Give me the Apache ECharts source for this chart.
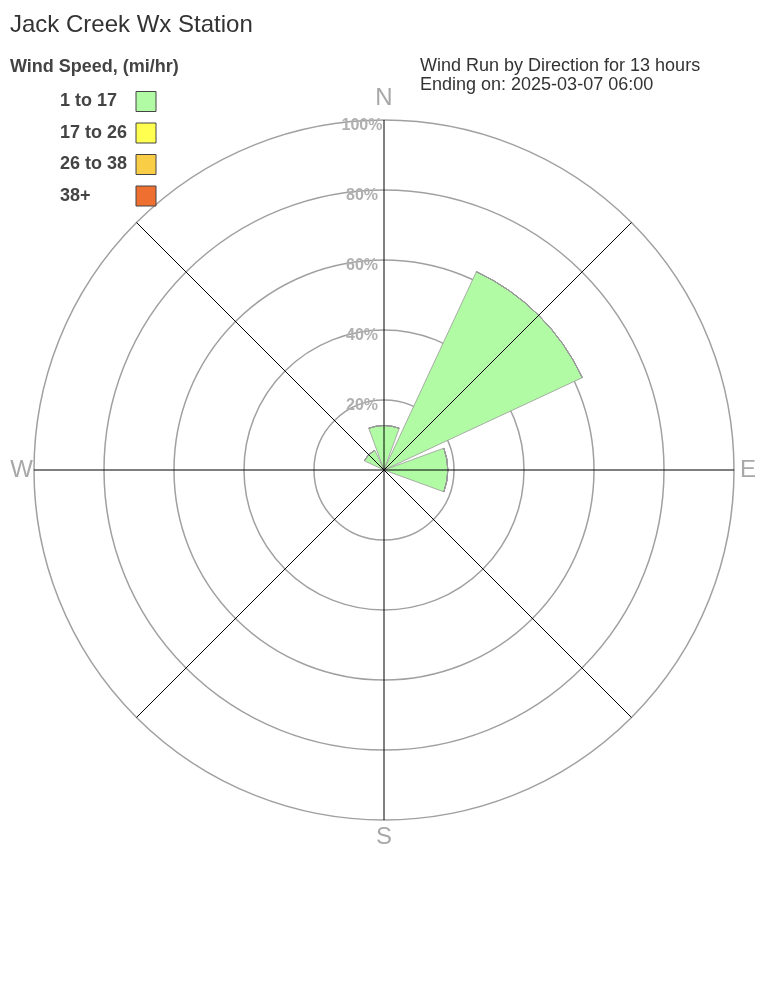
<!DOCTYPE html>
<html><head><meta charset="utf-8">
<script src="https://cdn.jsdelivr.net/npm/echarts@6/dist/echarts.min.js"></script>
<style>html,body{margin:0;padding:0;background:#fff}#c{width:768px;height:1008px}</style>
</head><body><div id="c"></div>
<script>
var directions = ['N','NE','E','SE','S','SW','W','NW'];
var speedBins = ['1 to 17','17 to 26','26 to 38','38+'];
var binColors = ['#b2fba5','#ffff50','#f9cd45','#ef6f30'];
var bin1 = [12.7, 62.5, 18.2, 0, 0, 0, 0, 6.2];
var bin2 = [0, 0, 0, 0, 0, 0, 0, 0];
var bin3 = [0, 0, 0, 0, 0, 0, 0, 0];
var bin4 = [0, 0, 0, 0, 0, 0, 0, 0];
var binData = [bin1, bin2, bin3, bin4];
var ringTicks = [20, 40, 60, 80, 100];
var cardinal = {N:1, E:1, S:1, W:1};
var FONT = '"Liberation Sans", Arial, sans-serif';

var chart = echarts.init(document.getElementById('c'));
var series = speedBins.map(function(name, i){
  return {
    type: 'bar', name: name, coordinateSystem: 'polar', polarIndex: 0,
    stack: 'wind', data: binData[i], barCategoryGap: '11%',
    itemStyle: {color: binColors[i], borderColor: '#999', borderWidth: 0.8},
    silent: true
  };
});
var cardStyle = {fontSize: 24, color: '#a8a8a8', fontFamily: FONT};
chart.setOption({
  animation: false,
  textStyle: {fontFamily: FONT},
  title: [
    {text: 'Jack Creek Wx Station', left: 5, top: 8, textStyle: {fontSize: 24, fontWeight: 'normal', color: '#333', fontFamily: FONT}},
    {text: 'Wind Speed, (mi/hr)', left: 5, top: 53, textStyle: {fontSize: 18, fontWeight: 'bold', color: '#444', fontFamily: FONT}},
    {text: 'Wind Run by Direction for 13 hours\nEnding on: 2025-03-07 06:00', left: 415, top: 52,
     textStyle: {fontSize: 18, fontWeight: 'normal', color: '#333', lineHeight: 19, fontFamily: FONT}}
  ],
  legend: {
    orient: 'vertical', left: 55, top: 86, align: 'right', icon: 'rect',
    itemWidth: 20, itemHeight: 20, itemGap: 10.5,
    data: speedBins,
    itemStyle: {borderColor: '#444', borderWidth: 1},
    formatter: function(name){ return '{a|' + name + '}'; },
    textStyle: {fontSize: 18, fontWeight: 'bold', color: '#444', fontFamily: FONT,
      rich: {a: {width: 71, align: 'left', fontSize: 18, fontWeight: 'bold', color: '#444', fontFamily: FONT}}},
    selectedMode: false
  },
  polar: [
    {center: [384, 470], radius: 350},
    {center: [384, 470], radius: 350}
  ],
  angleAxis: [
    {polarIndex: 0, type: 'category', data: directions, startAngle: 112.5, clockwise: true,
     axisLine: {show: false}, axisTick: {show: false}, splitLine: {show: false},
     axisLabel: {show: true, margin: 1, fontSize: 24, color: '#a8a8a8', fontFamily: FONT,
       formatter: function(v){ return cardinal[v] ? '{' + v + '|' + v + '}' : ''; },
       rich: {
         N: Object.assign({padding: [0, 0, 9, 0]}, cardStyle),
         S: Object.assign({padding: [4, 0, 0, 0]}, cardStyle),
         E: Object.assign({padding: [0, 0, 0, 5]}, cardStyle),
         W: Object.assign({padding: [0, 0, 0, 0]}, cardStyle)
       }}},
    {polarIndex: 1, type: 'value', min: 0, max: 360, interval: 45, startAngle: 90, z: 10,
     axisLine: {show: false}, axisTick: {show: false}, axisLabel: {show: false},
     splitLine: {show: true, lineStyle: {color: '#000', width: 1}}}
  ],
  radiusAxis: [
    {polarIndex: 0, type: 'value', min: 0, max: 100, show: false,
     axisLine: {show: false}, axisTick: {show: false}, axisLabel: {show: false}, splitLine: {show: false}},
    {polarIndex: 1, type: 'value', min: 0, max: 100, interval: 20, z: 0,
     axisLine: {show: false}, axisTick: {show: false},
     axisLabel: {show: true, fontSize: 16, fontWeight: 'bold', color: '#b0b0b0', fontFamily: FONT, margin: 1,
       formatter: function(v){ return ringTicks.indexOf(v) >= 0 ? '{p|' + v + '%}' : ''; },
       rich: {p: {width: 42, align: 'center', padding: [11, 0, 0, 0], fontSize: 16, fontWeight: 'bold', color: '#b0b0b0', fontFamily: FONT}}},
     splitLine: {show: true, lineStyle: {color: '#a0a0a0', width: 1.5}}}
  ],
  series: series
});
</script></body></html>
